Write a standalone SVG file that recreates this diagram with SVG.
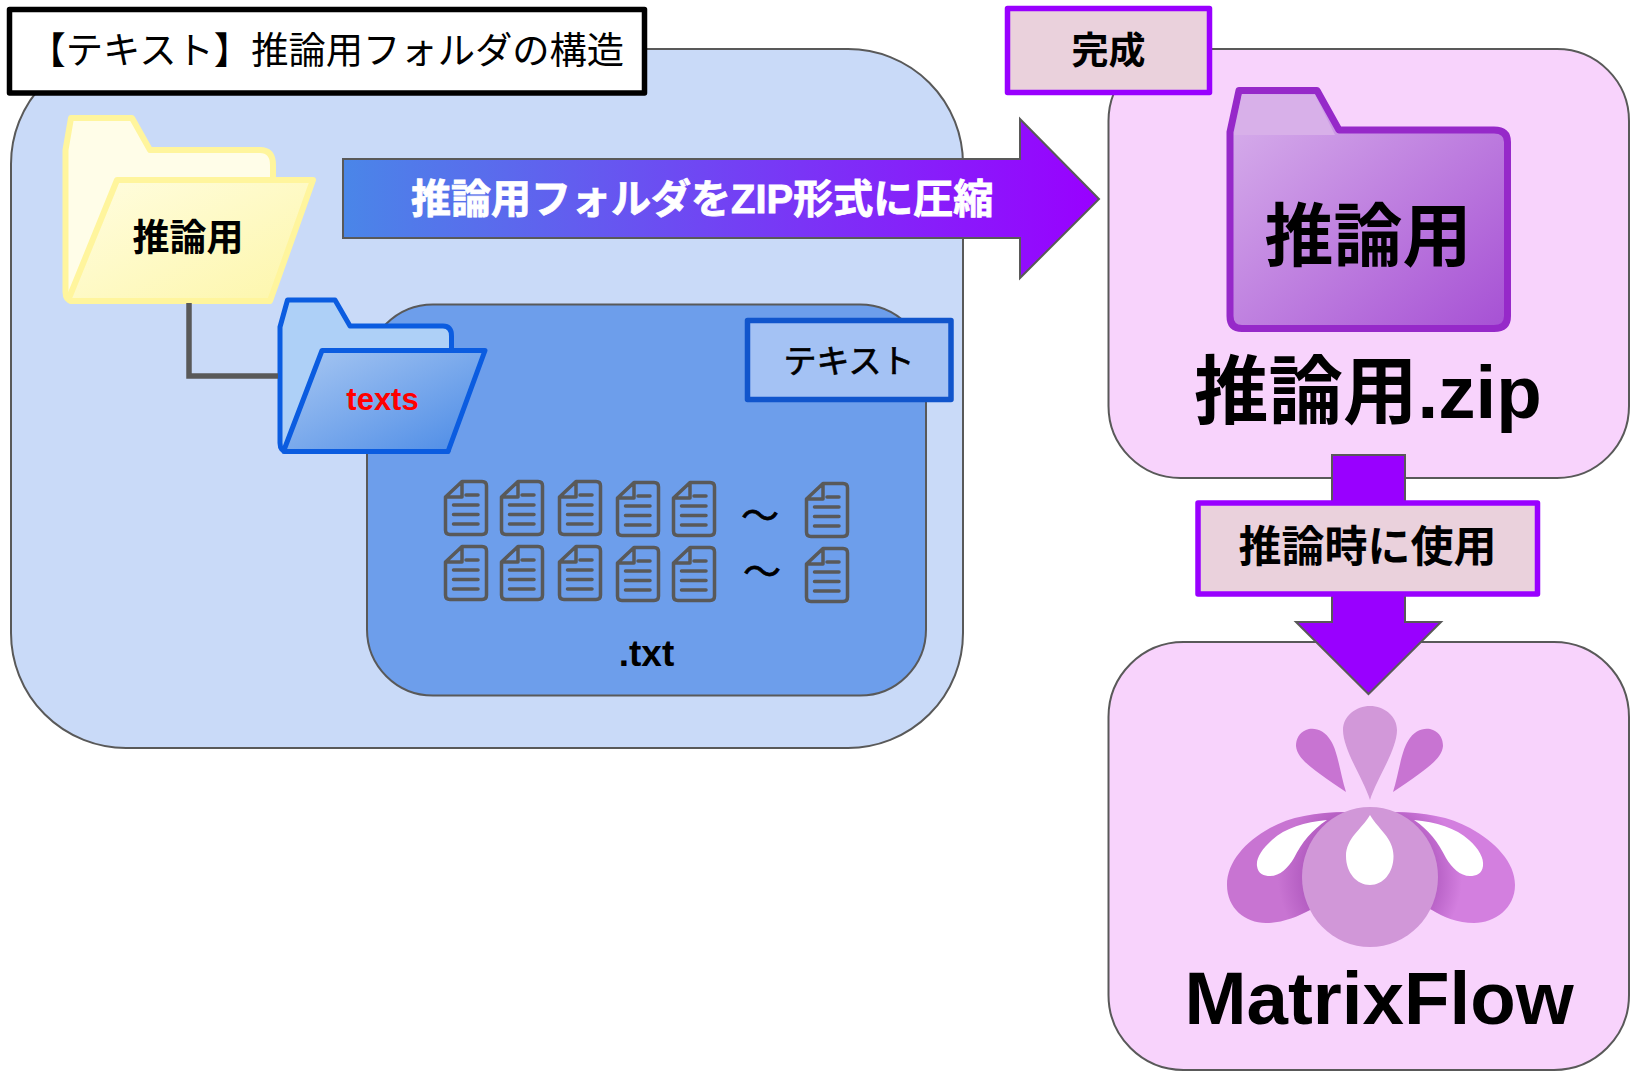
<svg xmlns="http://www.w3.org/2000/svg" xmlns:xlink="http://www.w3.org/1999/xlink" width="1639" height="1080" viewBox="0 0 1639 1080">
<style>
text{font-family:"Liberation Sans","Noto Sans CJK JP",sans-serif;fill:#000}
.cjk{font-family:"Noto Sans CJK JP","Liberation Sans",sans-serif}
.b{font-weight:700}
.m{text-anchor:middle}
.panel{stroke:#595959;stroke-width:2}
.pink{fill:#f8d3fc}
.tag{fill:#ead1dc;stroke:#9900ff;stroke-width:5.5;stroke-linejoin:round}
.arrow{fill:#9900ff;stroke:#595959;stroke-width:2}
.doc{fill:none;stroke:#595959;stroke-width:3.5;stroke-linejoin:round;stroke-linecap:round}
</style>
<defs>
<linearGradient id="gArrow" gradientUnits="userSpaceOnUse" x1="343" y1="0" x2="1098" y2="0"><stop offset="0" stop-color="#4a86e8"/><stop offset="1" stop-color="#9900ff"/></linearGradient>
<linearGradient id="gYellow" x1="0" y1="0" x2="1" y2="1"><stop offset="0" stop-color="#fffde0"/><stop offset="1" stop-color="#fdf6aa"/></linearGradient>
<linearGradient id="gBlue" x1="0" y1="0" x2="1" y2="1"><stop offset="0" stop-color="#a9c8f2"/><stop offset="1" stop-color="#4a8ae6"/></linearGradient>
<linearGradient id="gPurple" x1="0" y1="0" x2="1" y2="1"><stop offset="0" stop-color="#d9b3ec"/><stop offset="1" stop-color="#a650d4"/></linearGradient>
<radialGradient id="gShade" gradientUnits="userSpaceOnUse" cx="1370" cy="877" r="92"><stop offset="0.74" stop-color="#a850b8" stop-opacity="0.6"/><stop offset="1" stop-color="#a850b8" stop-opacity="0"/></radialGradient>
<clipPath id="petals">
<path d="M1348 812C1315 812 1290 817 1270 828C1245 842 1227 862 1227 885C1227 908 1245 923 1266 923C1282 923 1297 917 1310 910L1370 880Z"/>
<path d="M1392 812C1425 812 1450 817 1470 828C1495 842 1515 862 1515 885C1515 908 1495 923 1474 923C1458 923 1443 917 1432 910L1370 880Z"/>
</clipPath>
<symbol id="docIcon" viewBox="0 0 44 56" width="44" height="56" overflow="visible">
<path class="doc" d="M18 1.500H38Q42.500 1.500 42.500 6V50Q42.500 54.500 38 54.500H6Q1.500 54.500 1.500 50V17ZM18 1.500V17H1.500M22 15H34M9.500 25H34M9.500 34.500H34M9.500 44H34"/>
</symbol>
</defs>
<rect width="1639" height="1080" fill="#fff"/>

<g id="structure-panel"><rect class="panel" x="11" y="49" width="952" height="699" rx="115" fill="#c9daf8"/></g>
<g id="text-panel"><rect class="panel" x="367" y="304.500" width="559" height="391" rx="66" fill="#6d9eeb"/></g>

<g id="zip-panel"><rect class="panel pink" x="1108.500" y="49" width="520.500" height="429" rx="72"/>
<path d="M1230 316V132L1239 90.500H1317L1339 130H1494Q1507.500 130 1507.500 142V316Q1507.500 328.500 1494 328.500H1242Q1230 328.500 1230 316Z" fill="url(#gPurple)" stroke="#9629c9" stroke-width="7" stroke-linejoin="round"/>
<path d="M1234 135L1242 95H1315L1335 135Z" fill="#d8b0e9"/>
<text class="cjk b m" x="1368" y="261" font-size="69">推論用</text>
<text class="b" x="1194" y="418" font-size="74.500">推論用.zip</text>
</g>

<g id="matrixflow-panel"><rect class="panel pink" x="1108.500" y="642" width="520.500" height="428" rx="75"/>
<g id="logo">
<path d="M1348 812C1315 812 1290 817 1270 828C1245 842 1227 862 1227 885C1227 908 1245 923 1266 923C1282 923 1297 917 1310 910L1370 880Z" fill="#c874d2"/>
<path d="M1392 812C1425 812 1450 817 1470 828C1495 842 1515 862 1515 885C1515 908 1495 923 1474 923C1458 923 1443 917 1432 910L1370 880Z" fill="#d37fdf"/>
<rect x="1270" y="790" width="200" height="170" fill="url(#gShade)" clip-path="url(#petals)"/>
<path d="M1327 820C1305 822 1285 828 1272 840C1262 849 1256 858 1257 866C1258 874 1264 876 1270 876C1280 876 1288 868 1294 858C1302 842 1312 830 1327 820Z" fill="#fff"/>
<path d="M1414 820C1436 822 1456 828 1469 840C1479 849 1484 858 1483 866C1482 874 1476 876 1470 876C1460 876 1452 868 1446 858C1438 842 1429 830 1414 820Z" fill="#fff"/>
<ellipse cx="1370" cy="877" rx="68" ry="70" fill="#d197d8"/>
<path d="M1370 815C1362 829 1346 838 1346 856C1346 873 1357 885 1370 885C1383 885 1393.500 873 1393.500 856C1393.500 838 1378 829 1370 815Z" fill="#fff"/>
<path d="M1370 800C1364 780 1343 750 1343 730C1343 716 1356 706 1370 706C1384 706 1397 716 1397 730C1397 750 1376 780 1370 800Z" fill="#d298d9"/>
<path d="M1346 792C1340 773 1338 752 1331 741C1324 729 1313 727 1306 730C1299 733 1296 739 1296 746C1297 757 1308 765 1320 774C1328 780 1337 786 1346 792Z" fill="#c874d2"/>
<path d="M1393 792C1399 773 1401 752 1408 741C1415 729 1426 727 1433 730C1440 733 1443 739 1443 746C1442 757 1431 765 1419 774C1411 780 1402 786 1393 792Z" fill="#c874d2"/>
</g>
<text class="b" x="1184.500" y="1024" font-size="74.500">MatrixFlow</text>
</g>

<g id="folder-inference">
<path d="M65.500 292V150L71 118H132L150 150H260Q273 150 273 165V182L269 301H72Q65.500 300 65.500 292Z" fill="#fffde8" stroke="#fff59d" stroke-width="6" stroke-linejoin="round"/>
<path d="M69 298L117 180H313L270 301H71Z" fill="url(#gYellow)" stroke="#fff59d" stroke-width="6" stroke-linejoin="round"/>
<text class="cjk b m" x="188" y="251" font-size="37">推論用</text>
</g>

<g id="folder-texts">
<path d="M280 443V327L287.500 300H335L350 326H443Q451.500 326 451.500 336V352L448 451.500H287Q280 451 280 443Z" fill="#aed0f7" stroke="#0b5ce0" stroke-width="5" stroke-linejoin="round"/>
<path d="M284 450L322 350.500H485L448 451.500H284Z" fill="url(#gBlue)" stroke="#0b5ce0" stroke-width="5" stroke-linejoin="round"/>
<text class="b m" x="382.500" y="410" font-size="31" style="fill:#f00">texts</text>
</g>

<g id="connectors">
<path d="M189 303V376H278" fill="none" stroke="#595959" stroke-width="5.500"/>
<path id="arrow-compress" d="M343 159H1020V119L1099 199L1020 278V238H343Z" fill="url(#gArrow)" stroke="#595959" stroke-width="2"/>
<path id="arrow-use" class="arrow" d="M1332 455H1405V622H1441L1368.500 694L1296 622H1332Z"/>
</g>

<g id="title"><rect x="9.500" y="9.500" width="635" height="83.500" fill="#fff" stroke="#000" stroke-width="5.500" stroke-linejoin="round"/>
<text class="cjk" x="28.500" y="64" font-size="37.300">【テキスト】推論用フォルダの構造</text></g>

<g id="compress-label"><text class="b" x="411" y="213" font-size="40" stroke="#fff" stroke-width=".8" style="fill:#fff">推論用フォルダをZIP形式に圧縮</text></g>

<g id="label-text"><rect x="747.500" y="320.500" width="203.500" height="79" fill="#a4c2f4" stroke="#1155cc" stroke-width="5.500" stroke-linejoin="round"/>
<text class="cjk m" x="849" y="373" font-size="33" stroke="#000" stroke-width=".7">テキスト</text></g>

<g id="files">
<use xlink:href="#docIcon" href="#docIcon" x="444" y="480"/>
<use xlink:href="#docIcon" href="#docIcon" x="500" y="480"/>
<use xlink:href="#docIcon" href="#docIcon" x="558" y="480"/>
<use xlink:href="#docIcon" href="#docIcon" x="616" y="481"/>
<use xlink:href="#docIcon" href="#docIcon" x="672" y="481"/>
<use xlink:href="#docIcon" href="#docIcon" x="805" y="482"/>
<use xlink:href="#docIcon" href="#docIcon" x="444" y="545"/>
<use xlink:href="#docIcon" href="#docIcon" x="500" y="545"/>
<use xlink:href="#docIcon" href="#docIcon" x="558" y="545"/>
<use xlink:href="#docIcon" href="#docIcon" x="616" y="546"/>
<use xlink:href="#docIcon" href="#docIcon" x="672" y="546"/>
<use xlink:href="#docIcon" href="#docIcon" x="805" y="547"/>
<text class="cjk m" x="760" y="529" font-size="38" stroke="#000" stroke-width=".7">～</text>
<text class="cjk m" x="762" y="585" font-size="38" stroke="#000" stroke-width=".7">～</text>
<text class="b m" x="646.500" y="666" font-size="37">.txt</text>
</g>

<g id="label-done"><rect class="tag" x="1007.500" y="8.500" width="202" height="84"/>
<text class="cjk b m" x="1108.500" y="64" font-size="37">完成</text></g>

<g id="label-use"><rect class="tag" x="1198" y="503" width="339.500" height="91"/>
<text class="cjk b m" x="1367.500" y="562" font-size="43">推論時に使用</text></g>
</svg>
